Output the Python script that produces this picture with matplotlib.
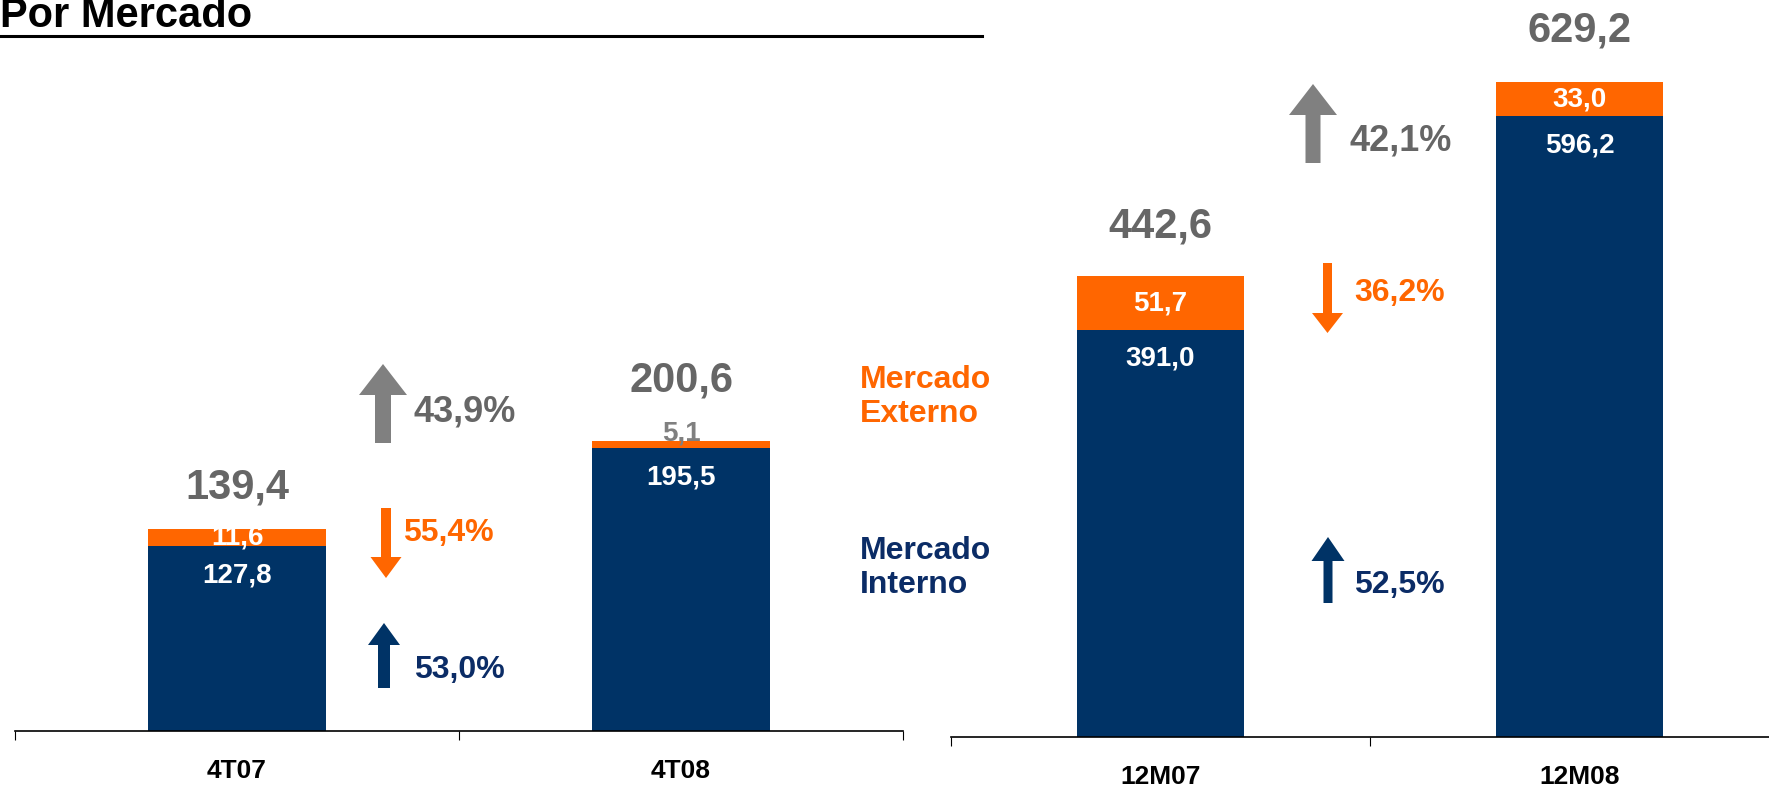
import matplotlib.pyplot as plt
import matplotlib.patches as mpatches
from matplotlib.transforms import Affine2D

plt.rcParams['font.family'] = ['Liberation Sans', 'DejaVu Sans']
plt.rcParams['font.weight'] = 'bold'

# quarterly data (R$ million)
quarters = ['4T07', '4T08']
q_interno = [127.8, 195.5]
q_externo = [11.6, 5.1]
q_total = [139.4, 200.6]

# year-to-date data
years = ['12M07', '12M08']
y_interno = [391.0, 596.2]
y_externo = [51.7, 33.0]
y_total = [442.6, 629.2]

# variations: total, externo, interno
q_var = ['43,9%', '55,4%', '53,0%']
y_var = ['42,1%', '36,2%', '52,5%']
var_dir = ['up', 'down', 'up']

NAVY = '#003366'
NAVY_TXT = '#0B2C66'
ORANGE = '#FF6600'
GRAY = '#808080'
DGRAY = '#666666'

W, H = 1769, 788
fig = plt.figure(figsize=(W / 100, H / 100), dpi=100)
# pixel coordinates, origin top-left
px = Affine2D().scale(1 / W, -1 / H).translate(0, 1) + fig.transFigure


def fmt(v):
    return f'{v:.1f}'.replace('.', ',')


def panel(left, base, width, top, cats, interno, externo, total, scale, total_off):
    ax = fig.add_axes([left / W, (H - base) / H, width / W, (base - top) / H])
    x = list(range(len(cats)))
    ax.bar(x, interno, 0.4, color=NAVY)
    ax.bar(x, externo, 0.4, bottom=interno, color=ORANGE)
    ax.set_xlim(-0.5, 1.5)
    ax.set_ylim(0, (base - top) / scale)
    for s in ['top', 'right', 'left']:
        ax.spines[s].set_visible(False)
    ax.spines['bottom'].set_linewidth(1.2)
    ax.set_yticks([])
    ax.set_xticks([-0.5, 0.5, 1.5])
    ax.set_xticklabels([])
    ax.tick_params(axis='x', which='major', length=6.5, width=0.8, direction='out')
    ax.set_xticks(x, minor=True)
    ax.set_xticklabels(cats, minor=True, fontsize=19, fontweight='bold')
    ax.tick_params(axis='x', which='minor', length=0, pad=20)

    for i in x:
        ax.annotate(fmt(interno[i]), (i, interno[i]), xytext=(0, -29 * 0.72),
                    textcoords='offset points', ha='center', va='center',
                    color='white', fontsize=20, fontweight='bold')
        if externo[i] * scale >= 12:
            ax.text(i, interno[i] + externo[i] / 2, fmt(externo[i]), ha='center',
                    va='center', color='white', fontsize=20, fontweight='bold')
        else:
            ax.annotate(fmt(externo[i]), (i, total[i]), xytext=(0, 7 * 0.72),
                        textcoords='offset points', ha='center', va='center',
                        color=GRAY, fontsize=20, fontweight='bold')
        ax.annotate(fmt(total[i]), (i, total[i]), xytext=(0, total_off[i] * 0.72),
                    textcoords='offset points', ha='center', va='center',
                    color=DGRAY, fontsize=30, fontweight='bold', annotation_clip=False)
    return ax


panel(15, 731, 888, 60, quarters, q_interno, q_externo, q_total, 1.447, [42, 60])
panel(951, 737, 838, 0, years, y_interno, y_externo, y_total, 1.041, [50, 52])


def arrow(x, y0, y1, shaft, head, head_len, color):
    a = mpatches.FancyArrow(x, y0, 0, y1 - y0, width=shaft, head_width=head,
                            head_length=head_len, length_includes_head=True,
                            transform=px, color=color, lw=0)
    fig.add_artist(a)


# arrows and variation labels (pixel layout)
arrow_geo = [
    [(383, 443, 364, 16, 48, 31), (386, 508, 578, 10, 31, 21), (384, 688, 623, 12, 32, 22)],
    [(1313, 163, 84, 15, 48, 31), (1327.5, 263, 333, 9, 31, 20), (1328, 603, 537, 9, 33, 24)],
]
text_pos = [
    [(413, 412), (403, 533), (414, 670)],
    [(1350, 141), (1354, 293), (1354, 585)],
]
arrow_colors = [GRAY, ORANGE, NAVY]
text_colors = [DGRAY, ORANGE, NAVY_TXT]
text_sizes = [26, 23, 23]

for p, labels in enumerate([q_var, y_var]):
    for k in range(3):
        arrow(*arrow_geo[p][k], arrow_colors[k])
        tx, ty = text_pos[p][k]
        fig.text(tx, ty, labels[k], transform=px, ha='left', va='center',
                 color=text_colors[k], fontsize=text_sizes[k], fontweight='bold')

# legend-like labels
fig.text(860, 397, 'Mercado\nExterno', transform=px, ha='left', va='center',
         color=ORANGE, fontsize=23, fontweight='bold', linespacing=1.15)
fig.text(860, 568, 'Mercado\nInterno', transform=px, ha='left', va='center',
         color=NAVY_TXT, fontsize=23, fontweight='bold', linespacing=1.15)

# title with underline
fig.text(0, 27, 'Por Mercado', transform=px, ha='left', va='baseline',
         color='black', fontsize=30, fontweight='bold')
fig.add_artist(plt.Line2D([0, 982], [36, 36], transform=px, color='black', lw=2.2))

fig.savefig('out.png', dpi=100)
